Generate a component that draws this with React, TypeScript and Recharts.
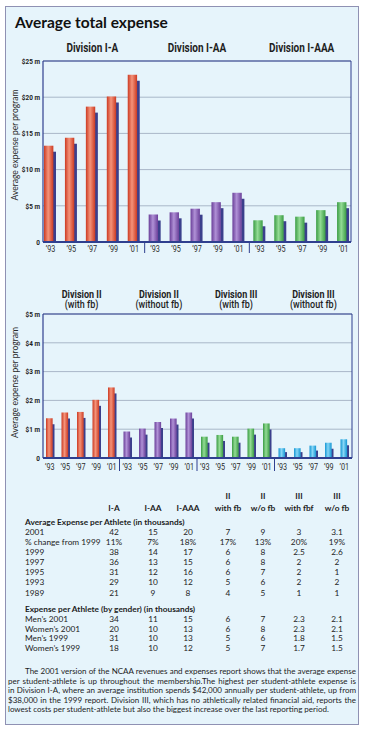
import React from 'react';
import { BarChart, Bar, XAxis, YAxis, CartesianGrid, Cell } from 'recharts';

// ---------- DATA ----------
const years = ['’93', '’95', '’97', '’99', '’01'];

const topGroups = ['Division I-A', 'Division I-AA', 'Division I-AAA'];
const divIA = [13.3, 14.4, 18.7, 20.1, 23.1];
const divIAA = [3.8, 4.1, 4.6, 5.5, 6.8];
const divIAAA = [3.0, 3.7, 3.5, 4.4, 5.5];
const topTicks = [0, 5, 10, 15, 20, 25];
const topTickLabels = ['0', '$5 m', '$10 m', '$15 m', '$20 m', '$25 m'];

const bottomGroupLine1 = ['Division II', 'Division II', 'Division III', 'Division III'];
const bottomGroupLine2 = ['(with fb)', '(without fb)', '(with fb)', '(without fb)'];
const divIIfb = [1.38, 1.58, 1.6, 2.02, 2.45];
const divIInofb = [0.92, 1.02, 1.25, 1.37, 1.58];
const divIIIfb = [0.74, 0.8, 0.74, 1.02, 1.2];
const divIIInofb = [0.34, 0.34, 0.43, 0.53, 0.65];
const bottomTicks = [0, 1, 2, 3, 4, 5];
const bottomTickLabels = ['0', '$1 m', '$2 m', '$3 m', '$4 m', '$5 m'];

const yAxisTitle = 'Average expense per program';
const chartTitle = 'Average total expense';

const tableHeadTop = ['', '', '', 'II', 'II', 'III', 'III'];
const tableHead = ['I-A', 'I-AA', 'I-AAA', 'with fb', 'w/o fb', 'with fbf', 'w/o fb'];
const avgTitle = 'Average Expense per Athlete (in thousands)';
const avgRows = [
  ['2001', '42', '15', '20', '7', '9', '3', '3.1'],
  ['% change from 1999', '11%', '7%', '18%', '17%', '13%', '20%', '19%'],
  ['1999', '38', '14', '17', '6', '8', '2.5', '2.6'],
  ['1997', '36', '13', '15', '6', '8', '2', '2'],
  ['1995', '31', '12', '16', '6', '7', '2', '1'],
  ['1993', '29', '10', '12', '5', '6', '2', '2'],
  ['1989', '21', '9', '8', '4', '5', '1', '1'],
];
const genderTitle = 'Expense per Athlete (by gender) (in thousands)';
const genderRows = [
  ['Men’s 2001', '34', '11', '15', '6', '7', '2.3', '2.1'],
  ['Women’s 2001', '20', '10', '13', '6', '8', '2.3', '2.1'],
  ['Men’s 1999', '31', '10', '13', '5', '6', '1.8', '1.5'],
  ['Women’s 1999', '18', '10', '12', '5', '7', '1.7', '1.5'],
];
const paragraphLines = [
  'The 2001 version of the NCAA revenues and expenses report shows that the average expense',
  'per student-athlete is up throughout the membership.The highest per student-athlete expense is',
  'in Division I-A, where an average institution spends $42,000 annually per student-athlete, up from',
  '$38,000 in the 1999 report. Division III, which has no athletically related financial aid, reports the',
  'lowest costs per student-athlete but also the biggest increase over the last reporting period.',
];

// ---------- BUILT TABLES ----------
const topSeries = [divIA, divIAA, divIAAA];
const topData = topGroups.flatMap((g, gi) =>
  years.map((yr, yi) => ({ id: `t${gi}-${yi}`, group: g, year: yr, value: topSeries[gi][yi], gi }))
);
const bottomSeries = [divIIfb, divIInofb, divIIIfb, divIIInofb];
const bottomData = bottomGroupLine1.flatMap((l1, gi) =>
  years.map((yr, yi) => ({
    id: `b${gi}-${yi}`,
    group: `${l1} ${bottomGroupLine2[gi]}`,
    year: yr,
    value: bottomSeries[gi][yi],
    gi,
  }))
);

// ---------- STYLE ----------
const NARROW = "Roboto, 'Noto Sans', sans-serif";
const BODY = "Lato, 'Noto Sans', sans-serif";
const FRAME = '#2f3f8f';
const GRID = '#a9b7c8';
const SHADOW = '#3b3f8c';
const palette = [
  { id: 'red', edge: '#cc3a22', mid: '#f4937a' },
  { id: 'purple', edge: '#6a3f99', mid: '#b091d6' },
  { id: 'green', edge: '#3a9c43', mid: '#93db95' },
  { id: 'cyan', edge: '#1596d4', mid: '#86d6f6' },
];

const Gradients = ({ prefix }: { prefix: string }) => (
  <defs>
    {palette.map((p) => (
      <linearGradient key={p.id} id={prefix + p.id} x1="0" y1="0" x2="1" y2="0">
        <stop offset="0" stopColor={p.edge} />
        <stop offset="0.45" stopColor={p.mid} />
        <stop offset="1" stopColor={p.edge} />
      </linearGradient>
    ))}
  </defs>
);

const Bar3D = (props: any) => {
  const { x, y, width, height, fill } = props;
  if (!height || height <= 0) return null;
  const mw = width * 0.78;
  const sd = Math.min(6, height * 0.4);
  return (
    <g>
      <rect x={x + mw - 0.5} y={y + sd} width={width - mw + 0.5} height={height - sd} fill={SHADOW} />
      <rect x={x} y={y} width={mw} height={height} fill={fill} />
    </g>
  );
};

// condensed text: narrow glyphs via horizontal scaling
const NText = (p: {
  x: number;
  y: number;
  size: number;
  weight?: number;
  anchor?: string;
  sx?: number;
  fill?: string;
  baseline?: string;
  children: any;
}) => (
  <text
    transform={`translate(${p.x} ${p.y}) scale(${p.sx ?? 0.82} 1)`}
    x={0}
    y={0}
    textAnchor={p.anchor ?? 'middle'}
    dominantBaseline={p.baseline ?? 'alphabetic'}
    fontSize={p.size}
    fontWeight={p.weight ?? 400}
    fontFamily={NARROW}
    fill={p.fill ?? '#222'}
  >
    {p.children}
  </text>
);

const makeYearTick = (data: any[], baseDy: number, sepLen: number) => (props: any) => {
  const { x, y, payload } = props;
  const i = payload && payload.index != null ? payload.index : props.index;
  const half = payload && payload.offset ? payload.offset : 10;
  const item = data[i];
  const showSep = i % 5 === 4 && i < data.length - 1;
  return (
    <g>
      <NText x={x} y={y + baseDy} size={8.5} sx={0.85} fill="#2a2a2a">
        {item ? item.year : ''}
      </NText>
      {showSep && (
        <line x1={x + half} x2={x + half} y1={y - 3} y2={y - 3 + sepLen} stroke={FRAME} strokeWidth={1} />
      )}
    </g>
  );
};

const YTick = (props: any) => (
  <NText x={props.x} y={props.y} size={8} weight={700} sx={0.8} anchor="end" baseline="central" fill="#222">
    {props.labels[props.ticks.indexOf(props.payload.value)]}
  </NText>
);

const TopGroupTick = (props: any) => (
  <NText x={props.x} y={props.y - 9} size={12.5} weight={700} sx={0.8} fill="#1e1e1e">
    {props.payload.value}
  </NText>
);

const BottomGroupTick = (props: any) => {
  const i = props.payload.index != null ? props.payload.index : props.index;
  return (
    <text
      transform={`translate(${props.x} ${props.y - 16.5}) scale(0.82 1)`}
      x={0}
      y={0}
      textAnchor="middle"
      fontSize={11}
      fontWeight={700}
      fontFamily={NARROW}
      fill="#1e1e1e"
    >
      <tspan x={0} y={0}>{bottomGroupLine1[i]}</tspan>
      <tspan x={0} y={10.8} fontWeight={500}>{bottomGroupLine2[i]}</tspan>
    </text>
  );
};

const YLabel = (props: any) => {
  const vb = props.viewBox || { x: 0, y: 0, width: 43, height: 0 };
  const cx = 14.5;
  const cy = vb.y + vb.height / 2 + (props.shift || 0);
  return (
    <text
      x={cx}
      y={cy}
      transform={`rotate(-90 ${cx} ${cy})`}
      textAnchor="middle"
      dominantBaseline="central"
      fontSize={8.5}
      fontFamily={BODY}
      fill="#2a2a2a"
    >
      {yAxisTitle}
    </text>
  );
};

// ---------- TABLE ----------
const colX = [114, 153, 188, 228, 263, 299, 337];
const avgRowY = [531.5, 542, 552, 562, 572.3, 582.3, 592.7];
const genderRowY = [619, 628.7, 638.3, 648.3];
const paraY = [671, 680.5, 690, 699.5, 709];
const TFS = 8.3;

const cellStyle = (cx: number, cy: number, bold = false): React.CSSProperties => ({
  position: 'absolute',
  left: cx - 30,
  width: 60,
  top: cy - 5,
  height: 10,
  lineHeight: '10px',
  textAlign: 'center',
  fontSize: TFS,
  fontWeight: bold ? 700 : 400,
  fontFamily: BODY,
  color: '#1d1d1d',
  whiteSpace: 'nowrap',
});
const labelStyle = (cy: number, bold = false): React.CSSProperties => ({
  position: 'absolute',
  left: 25,
  top: cy - 5,
  height: 10,
  lineHeight: '10px',
  fontSize: TFS,
  fontWeight: bold ? 700 : 400,
  fontFamily: BODY,
  color: '#1d1d1d',
  whiteSpace: 'nowrap',
});

const Rows = ({ rows, ys }: { rows: string[][]; ys: number[] }) => (
  <>
    {rows.map((r, ri) => (
      <React.Fragment key={ri}>
        <div style={labelStyle(ys[ri])}>{r[0]}</div>
        {r.slice(1).map((v, ci) => (
          <div key={ci} style={cellStyle(colX[ci], ys[ri])}>{v}</div>
        ))}
      </React.Fragment>
    ))}
  </>
);

export default function App() {
  return (
    <div style={{ position: 'absolute', left: 0, top: 0, width: 367, height: 736, background: '#fff', overflow: 'hidden' }}>
      <div
        style={{
          position: 'absolute',
          left: 5,
          top: 6,
          width: 354,
          height: 719,
          border: '1.5px solid #8f91b3',
          background: '#e6f4fb',
          boxSizing: 'border-box',
        }}
      />
      <div
        style={{
          position: 'absolute',
          left: 15,
          top: 12,
          lineHeight: '20px',
          fontSize: 15.5,
          fontWeight: 700,
          fontFamily: BODY,
          color: '#111',
          whiteSpace: 'nowrap',
        }}
      >
        {chartTitle}
      </div>

      {/* Top chart */}
      <div style={{ position: 'absolute', left: 0, top: 0 }}>
        <BarChart width={367} height={262} data={topData} margin={{ top: 31, right: 15, left: 0, bottom: 2 }} barSize={12}>
          <Gradients prefix="t" />
          <CartesianGrid vertical={false} stroke={GRID} />
          <XAxis
            dataKey="id"
            type="category"
            height={18}
            interval={0}
            tickSize={2}
            tickMargin={1}
            tickLine={false}
            axisLine={{ stroke: FRAME, strokeWidth: 2 }}
            tick={makeYearTick(topData, 6.5, 11)}
            padding={{ left: -3, right: -3 }}
          />
          <XAxis
            xAxisId="grp"
            orientation="top"
            dataKey="group"
            type="category"
            allowDuplicatedCategory={false}
            height={30}
            interval={0}
            tickSize={0}
            tickMargin={0}
            tickLine={false}
            axisLine={{ stroke: FRAME }}
            tick={TopGroupTick}
            padding={{ left: -3, right: -3 }}
          />
          <YAxis
            type="number"
            domain={[0, 25]}
            ticks={topTicks}
            interval={0}
            width={43}
            tickSize={2}
            tickMargin={1}
            tickLine={false}
            axisLine={{ stroke: FRAME, strokeWidth: 1.2 }}
            tick={(p: any) => <YTick {...p} labels={topTickLabels} ticks={topTicks} />}
            label={<YLabel shift={-6.5} />}
          />
          <YAxis
            yAxisId="r"
            orientation="right"
            type="number"
            domain={[0, 25]}
            width={1}
            tick={false}
            tickLine={false}
            axisLine={{ stroke: FRAME }}
          />
          <Bar dataKey="value" isAnimationActive={false} shape={Bar3D}>
            {topData.map((d, i) => (
              <Cell key={i} fill={`url(#t${palette[d.gi].id})`} />
            ))}
          </Bar>
        </BarChart>
      </div>

      {/* Bottom chart */}
      <div style={{ position: 'absolute', left: 0, top: 262 }}>
        <BarChart width={367} height={215} data={bottomData} margin={{ top: 12, right: 14, left: 0, bottom: 1 }} barSize={8.5}>
          <Gradients prefix="b" />
          <CartesianGrid vertical={false} stroke={GRID} />
          <XAxis
            dataKey="id"
            type="category"
            height={18}
            interval={0}
            tickSize={2}
            tickMargin={1}
            tickLine={false}
            axisLine={{ stroke: FRAME, strokeWidth: 2 }}
            tick={makeYearTick(bottomData, 8.5, 13)}
            padding={{ left: -1, right: 0 }}
          />
          <XAxis
            xAxisId="grp"
            orientation="top"
            dataKey="group"
            type="category"
            allowDuplicatedCategory={false}
            height={40}
            interval={0}
            tickSize={0}
            tickMargin={0}
            tickLine={false}
            axisLine={{ stroke: FRAME }}
            tick={BottomGroupTick}
          />
          <YAxis
            type="number"
            domain={[0, 5]}
            ticks={bottomTicks}
            interval={0}
            width={43}
            tickSize={2}
            tickMargin={1}
            tickLine={false}
            axisLine={{ stroke: FRAME, strokeWidth: 1.2 }}
            tick={(p: any) => <YTick {...p} labels={bottomTickLabels} ticks={bottomTicks} />}
            label={<YLabel shift={-3.5} />}
          />
          <YAxis
            yAxisId="r"
            orientation="right"
            type="number"
            domain={[0, 5]}
            width={1}
            tick={false}
            tickLine={false}
            axisLine={{ stroke: FRAME }}
          />
          <Bar dataKey="value" isAnimationActive={false} shape={Bar3D}>
            {bottomData.map((d, i) => (
              <Cell key={i} fill={`url(#b${palette[d.gi].id})`} />
            ))}
          </Bar>
        </BarChart>
      </div>

      {/* Table */}
      {tableHeadTop.map((t, ci) =>
        t ? <div key={'ht' + ci} style={cellStyle(colX[ci], 495.7, true)}>{t}</div> : null
      )}
      {tableHead.map((t, ci) => (
        <div key={'h' + ci} style={cellStyle(colX[ci], 507.7, true)}>{t}</div>
      ))}
      <div style={labelStyle(522.3, true)}>{avgTitle}</div>
      <Rows rows={avgRows} ys={avgRowY} />
      <div style={labelStyle(609, true)}>{genderTitle}</div>
      <Rows rows={genderRows} ys={genderRowY} />

      {/* Paragraph */}
      {paragraphLines.map((line, i) => {
        const last = i === paragraphLines.length - 1;
        return (
          <div
            key={'p' + i}
            style={{
              position: 'absolute',
              left: i === 0 ? 25 : 8,
              width: i === 0 ? 331 : 348,
              top: paraY[i] - 5,
              height: 10,
              lineHeight: '10px',
              fontSize: 8,
              fontFamily: BODY,
              color: '#1d1d1d',
              whiteSpace: 'nowrap',
              textAlign: last ? 'left' : 'justify',
              textAlignLast: last ? 'left' : 'justify',
            }}
          >
            {line}
          </div>
        );
      })}
    </div>
  );
}
